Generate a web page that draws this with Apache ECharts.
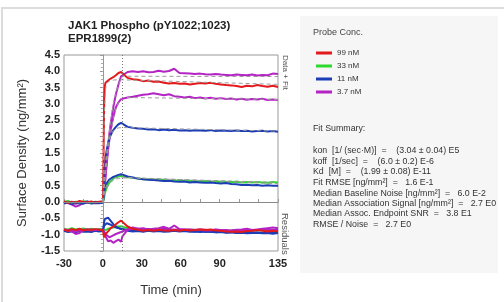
<!DOCTYPE html>
<html>
<head>
<meta charset="utf-8">
<script src="https://cdn.jsdelivr.net/npm/echarts@6/dist/echarts.min.js"></script>
<style>
  html, body { margin: 0; padding: 0; background: #fff; }
  #main { width: 504px; height: 302px; }
</style>
</head>
<body>
<div id="main"></div>
<script>
// time points (min)
var times = [-30,-27,-24,-21,-18,-15,-12,-9,-6,-3,0,
  0.5,1,1.5,2,3,4,5,6,8,10,12,14,15,
  19,23,27,31,35,39,43,47,51,55,59,63,67,71,75,79,83,87,91,95,99,103,107,111,115,119,123,127,131,135];

// sensorgram data
var red99 = [0.02,-0.03,0.01,-0.02,0.03,0.00,-0.01,0.02,-0.02,0.01,0.02,
  1.5,3.2,3.55,3.65,3.7,3.72,3.75,3.78,3.82,3.88,3.95,3.98,3.92,
  3.80,3.76,3.74,3.70,3.72,3.68,3.69,3.65,3.63,3.64,3.62,3.63,3.60,3.62,3.64,3.63,3.65,3.62,3.60,3.58,3.57,3.55,3.52,3.56,3.54,3.58,3.55,3.53,3.56,3.52];
var green33 = [0.00,0.03,-0.02,0.01,-0.01,0.02,0.00,-0.02,0.01,0.00,0.01,
  0.05,0.15,0.25,0.33,0.45,0.53,0.60,0.65,0.72,0.76,0.78,0.80,0.80,
  0.76,0.74,0.72,0.70,0.70,0.68,0.68,0.67,0.66,0.66,0.65,0.65,0.64,0.64,0.63,0.64,0.62,0.63,0.62,0.62,0.61,0.62,0.60,0.61,0.60,0.61,0.60,0.59,0.61,0.60];
var blueHigh = [-0.05,-0.02,-0.06,-0.03,-0.04,-0.05,-0.02,-0.05,-0.03,-0.04,-0.02,
  0.3,0.8,1.1,1.35,1.6,1.8,1.95,2.05,2.2,2.3,2.38,2.42,2.40,
  2.30,2.27,2.25,2.24,2.22,2.23,2.20,2.22,2.20,2.21,2.19,2.20,2.18,2.20,2.19,2.18,2.20,2.17,2.19,2.18,2.17,2.19,2.17,2.18,2.16,2.17,2.18,2.16,2.17,2.15];
var blueLow = [0.01,-0.03,0.00,-0.02,0.01,-0.01,0.02,-0.02,0.00,-0.01,0.00,
  0.15,0.30,0.40,0.48,0.58,0.64,0.69,0.72,0.77,0.80,0.83,0.85,0.84,
  0.78,0.75,0.72,0.70,0.68,0.67,0.66,0.64,0.65,0.63,0.62,0.63,0.60,0.61,0.60,0.59,0.60,0.58,0.57,0.58,0.55,0.54,0.52,0.53,0.51,0.52,0.50,0.51,0.50,0.50];
var purpleHigh = [0.00,-0.03,-0.08,-0.14,-0.10,-0.02,0.01,-0.02,0.00,-0.01,0.00,
  0.1,0.3,0.55,0.8,1.3,1.7,2.1,2.4,2.9,3.3,3.6,3.85,3.90,
  3.98,4.00,3.98,4.00,3.97,3.98,4.02,3.99,4.01,4.08,3.95,3.94,3.93,3.92,3.93,3.91,3.90,3.92,3.90,3.89,3.88,3.90,3.89,3.88,3.90,3.87,3.89,3.88,3.93,3.92];
var purpleMid = [-0.02,0.00,-0.03,-0.05,-0.02,-0.04,-0.01,-0.03,-0.02,-0.01,0.00,
  0.1,0.3,0.5,0.8,1.2,1.6,1.9,2.2,2.6,2.9,3.05,3.15,3.18,
  3.20,3.22,3.25,3.28,3.30,3.33,3.30,3.27,3.30,3.24,3.22,3.20,3.22,3.18,3.20,3.17,3.19,3.16,3.18,3.15,3.17,3.14,3.16,3.13,3.15,3.14,3.16,3.12,3.14,3.12];

// residuals (plotted with offset, as in the original)
var resRed = [-0.85,-0.88,-0.83,-0.86,-0.82,-0.87,-0.84,-0.86,-0.83,-0.85,-0.86,
  -1.0,-1.08,-1.05,-0.98,-0.95,-0.90,-0.85,-0.80,-0.75,-0.68,-0.62,-0.57,-0.60,
  -0.75,-0.82,-0.85,-0.88,-0.86,-0.88,-0.85,-0.87,-0.88,-0.86,-0.88,-0.85,-0.87,-0.86,-0.84,-0.86,-0.84,-0.87,-0.88,-0.90,-0.91,-0.90,-0.92,-0.89,-0.88,-0.86,-0.88,-0.90,-0.88,-0.90];
var resGreen = [-0.82,-0.85,-0.80,-0.84,-0.83,-0.81,-0.85,-0.82,-0.84,-0.83,-0.84,
  -0.88,-0.90,-0.88,-0.86,-0.84,-0.82,-0.80,-0.80,-0.78,-0.76,-0.75,-0.74,-0.76,
  -0.80,-0.82,-0.84,-0.83,-0.85,-0.84,-0.86,-0.85,-0.84,-0.86,-0.85,-0.87,-0.86,-0.85,-0.87,-0.86,-0.88,-0.87,-0.86,-0.88,-0.87,-0.86,-0.88,-0.87,-0.88,-0.86,-0.87,-0.88,-0.87,-0.86];
var resBlueHigh = [-0.88,-0.92,-0.90,-0.93,-0.89,-0.91,-0.90,-0.92,-0.88,-0.90,-0.89,
  -0.75,-0.60,-0.52,-0.50,-0.47,-0.48,-0.52,-0.58,-0.68,-0.75,-0.80,-0.83,-0.82,
  -0.88,-0.90,-0.89,-0.91,-0.88,-0.90,-0.89,-0.91,-0.90,-0.88,-0.90,-0.89,-0.91,-0.90,-0.92,-0.90,-0.91,-0.93,-0.92,-0.94,-0.93,-0.95,-0.94,-0.96,-0.95,-0.94,-0.96,-0.95,-0.97,-0.95];
var resBlueLow = [-0.86,-0.89,-0.85,-0.88,-0.86,-0.87,-0.85,-0.88,-0.86,-0.87,-0.86,
  -0.80,-0.72,-0.68,-0.66,-0.65,-0.66,-0.68,-0.70,-0.74,-0.78,-0.80,-0.82,-0.83,
  -0.86,-0.87,-0.86,-0.88,-0.87,-0.86,-0.88,-0.87,-0.89,-0.88,-0.87,-0.89,-0.88,-0.90,-0.89,-0.91,-0.90,-0.92,-0.91,-0.93,-0.92,-0.94,-0.93,-0.92,-0.94,-0.93,-0.95,-0.94,-0.93,-0.95];
var resPurpleHigh = [-0.85,-0.87,-0.90,-0.98,-0.95,-0.86,-0.84,-0.87,-0.85,-0.86,-0.85,
  -0.90,-0.95,-0.98,-1.05,-1.10,-1.20,-1.22,-1.18,-1.25,-1.20,-1.15,-1.22,-1.05,
  -0.85,-0.78,-0.82,-0.80,-0.84,-0.82,-0.80,-0.76,-0.82,-0.72,-0.83,-0.84,-0.85,-0.86,-0.84,-0.85,-0.87,-0.84,-0.86,-0.88,-0.87,-0.85,-0.84,-0.82,-0.86,-0.84,-0.82,-0.80,-0.78,-0.80];
var resPurpleMid = [-0.84,-0.86,-0.85,-0.90,-0.87,-0.85,-0.86,-0.84,-0.86,-0.85,-0.85,
  -0.86,-0.90,-0.94,-0.98,-1.02,-1.06,-1.08,-1.05,-1.02,-0.98,-0.95,-0.92,-0.88,
  -0.84,-0.83,-0.82,-0.84,-0.83,-0.85,-0.84,-0.82,-0.85,-0.84,-0.86,-0.85,-0.84,-0.86,-0.85,-0.87,-0.86,-0.85,-0.87,-0.86,-0.88,-0.87,-0.86,-0.85,-0.87,-0.86,-0.85,-0.84,-0.86,-0.85];

// fitted curves
var fitTimes = [0,1,2,3,4,6,8,10,12,15,135];
var fitRed = [0,2.6,3.45,3.65,3.70,3.72,3.73,3.74,3.74,3.74,3.60];
var fitGreen = [0,0.17,0.31,0.42,0.50,0.60,0.66,0.70,0.72,0.74,0.60];
var fitBlueHigh = [0,0.70,1.20,1.55,1.80,2.05,2.18,2.24,2.27,2.28,2.17];
var fitBlueLow = [0,0.25,0.42,0.53,0.60,0.68,0.72,0.74,0.75,0.76,0.56];
var fitPurpleHigh = [0,0.50,1.00,1.45,1.85,2.50,3.00,3.35,3.60,3.85,3.84];
var fitPurpleMid = [0,0.45,0.85,1.25,1.60,2.15,2.55,2.85,3.05,3.20,3.14];

var xLabels = [-30, 0, 30, 60, 90, 135];

var legendNames = ['99 nM', '33 nM', '11 nM', '3.7 nM'];
var colors = { red: '#e3191c', green: '#2ed82e', blue: '#1c3db5', purple: '#b423c4' };

var fitLines = [
  'Fit RMSE [ng/mm\u00b2]  =   1.6 E-1',
  'Median Baseline Noise [ng/mm\u00b2]  =   6.0 E-2',
  'Median Association Signal [ng/mm\u00b2]  =   2.7 E0',
  'Median Assoc. Endpoint SNR  =   3.8 E1',
  'RMSE / Noise  =   2.7 E0'
];
var constLines = [
  'kon  [1/ (sec\u00b7M)]  =    (3.04 \u00b1 0.04) E5',
  'koff  [1/sec]  =    (6.0 \u00b1 0.2) E-6',
  'Kd  [M]  =    (1.99 \u00b1 0.08) E-11'
];

function zip(xs, ys) {
  var out = [];
  for (var i = 0; i < xs.length; i++) out.push([xs[i], ys[i]]);
  return out;
}

function dataLine(name, color, vals) {
  return {
    name: name, type: 'line', data: zip(times, vals), showSymbol: false, symbol: 'none',
    lineStyle: { color: color, width: 2 }, itemStyle: { color: color }, z: 3, silent: true
  };
}
function fitLine(vals) {
  return {
    name: 'fit', type: 'line', data: zip(fitTimes, vals), showSymbol: false, symbol: 'none',
    lineStyle: { color: '#9a9a9a', width: 1, type: [4, 3] }, z: 4, silent: true
  };
}

var font = 'Liberation Sans, Arial, sans-serif';
var panelFont = '8.8px ' + font;

var graphics = [
  { type: 'rect', shape: { x: 2, y: 8, width: 560, height: 400 }, style: { fill: 'none', stroke: '#dcdcdc', lineWidth: 2 }, silent: true, z: -10 },
  { type: 'rect', shape: { x: 300, y: 16, width: 198, height: 257 }, style: { fill: '#f6f6f6' }, silent: true, z: -9 },
  { type: 'text', x: 68, y: 26, style: { text: 'JAK1 Phospho (pY1022;1023)', fill: '#222', font: 'bold 11.5px ' + font, verticalAlign: 'middle' } },
  { type: 'text', x: 68, y: 39, style: { text: 'EPR1899(2)', fill: '#222', font: 'bold 11.5px ' + font, verticalAlign: 'middle' } },
  { type: 'text', x: 285, y: 55, rotation: -Math.PI / 2, style: { text: 'Data + Fit', fill: '#555', font: '8px ' + font, verticalAlign: 'middle', align: 'left' } },
  { type: 'text', x: 285, y: 213, rotation: -Math.PI / 2, style: { text: 'Residuals', fill: '#555', font: '9.5px ' + font, verticalAlign: 'middle', align: 'left' } },
  { type: 'text', x: 313, y: 33, style: { text: 'Probe Conc.', fill: '#444', font: '9px ' + font, verticalAlign: 'middle' } },
  { type: 'text', x: 313, y: 129, style: { text: 'Fit Summary:', fill: '#333', font: panelFont, verticalAlign: 'middle' } }
];
constLines.forEach(function(t, i) {
  graphics.push({ type: 'text', x: 313, y: 151 + i * 10.5, style: { text: t, fill: '#333', font: panelFont, verticalAlign: 'middle' } });
});
fitLines.forEach(function(t, i) {
  graphics.push({ type: 'text', x: 313, y: 183 + i * 10.3, style: { text: t, fill: '#333', font: panelFont, verticalAlign: 'middle' } });
});

var series = [
  // reference lines
  {
    name: 'ref', type: 'line', data: [], z: 1, silent: true,
    markLine: {
      silent: true, symbol: 'none', label: { show: false },
      data: [
        { yAxis: 0, lineStyle: { color: '#8a8a8a', width: 1, type: 'solid' } },
        { xAxis: 15, lineStyle: { color: '#777', width: 1, type: [1, 2] } }
      ]
    }
  },
  dataLine('3.7 nM', colors.purple, purpleHigh),
  dataLine('3.7 nM', colors.purple, purpleMid),
  dataLine('11 nM', colors.blue, blueHigh),
  dataLine('33 nM', colors.green, green33),
  dataLine('11 nM', colors.blue, blueLow),
  dataLine('99 nM', colors.red, red99),
  dataLine('res', colors.green, resGreen),
  dataLine('res', colors.blue, resBlueLow),
  dataLine('res', colors.blue, resBlueHigh),
  dataLine('res', colors.purple, resPurpleMid),
  dataLine('res', colors.purple, resPurpleHigh),
  dataLine('res', colors.red, resRed),
  fitLine(fitRed), fitLine(fitGreen), fitLine(fitBlueHigh), fitLine(fitBlueLow),
  fitLine(fitPurpleHigh), fitLine(fitPurpleMid)
];

var chart = echarts.init(document.getElementById('main'), null, { renderer: 'canvas' });
chart.setOption({
  animation: false,
  backgroundColor: '#fff',
  grid: { left: 64, right: 226, top: 55, bottom: 49, show: true, borderColor: '#999', borderWidth: 1, backgroundColor: 'transparent' },
  legend: {
    data: legendNames, orient: 'vertical', left: 311, top: 44, icon: 'rect',
    itemWidth: 16, itemHeight: 3, itemGap: 5, selectedMode: false,
    textStyle: { fontSize: 8, color: '#333', fontFamily: font }
  },
  xAxis: {
    type: 'value', min: -30, max: 135, interval: 15,
    name: 'Time (min)', nameLocation: 'middle', nameGap: 33,
    nameTextStyle: { fontSize: 13, color: '#333', fontFamily: font },
    axisLine: { show: true, lineStyle: { color: '#999' } },
    axisTick: { show: true, length: 3, inside: true, lineStyle: { color: '#999' } },
    axisLabel: {
      margin: 7, fontSize: 11, fontWeight: 'bold', color: '#222', fontFamily: font, showMinLabel: true, showMaxLabel: true,
      formatter: function(v) { return xLabels.indexOf(v) >= 0 ? String(v) : ''; }
    },
    splitLine: { show: false }
  },
  yAxis: {
    type: 'value', min: -1.5, max: 4.5, interval: 0.5,
    name: 'Surface Density (ng/mm\u00b2)', nameLocation: 'middle', nameGap: 35,
    nameTextStyle: { fontSize: 13, color: '#333', fontFamily: font },
    axisLine: { show: true, lineStyle: { color: '#999' } },
    axisTick: { show: true, length: 3, lineStyle: { color: '#999' } },
    minorTick: { show: true, splitNumber: 4, length: 2, lineStyle: { color: '#aaa' } },
    axisLabel: { margin: 4, fontSize: 11, fontWeight: 'bold', color: '#222', fontFamily: font, formatter: function(v) { return v.toFixed(1); } },
    splitLine: { show: false }
  },
  graphic: graphics,
  series: series
});
</script>
</body>
</html>
